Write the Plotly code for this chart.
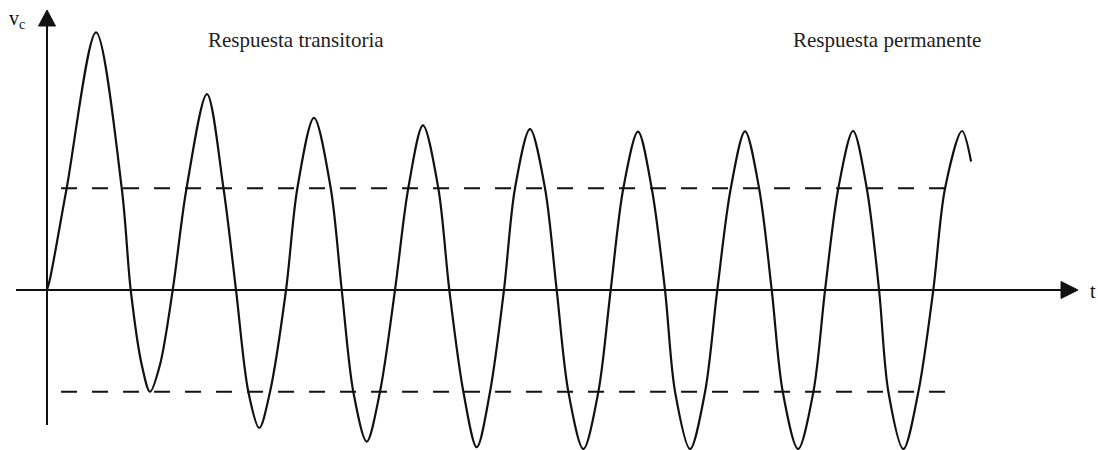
import plotly.graph_objects as go

# Capacitor voltage v_c (V) against time t (ms): transient start, then steady oscillation
t_ms = [0.00, 0.28, 1.82, 4.54, 6.92, 7.75,
        8.77, 9.54, 10.46, 11.64,
        12.92, 14.81, 16.34, 17.50, 18.64, 19.65, 20.65, 22.13,
        23.18, 24.72, 26.27, 27.29, 28.36, 29.60, 30.83, 32.22,
        33.45, 34.81, 36.23, 37.25, 38.55, 39.79, 41.02, 42.31,
        43.33, 44.72, 46.11, 47.19, 48.27, 49.66, 51.05, 52.19,
        53.36, 54.72, 55.99, 57.22, 58.15, 59.54, 60.93, 62.06,
        63.31, 64.63, 65.93, 67.10, 68.12, 69.54, 70.96, 72.04,
        73.27, 74.63, 75.90, 77.04, 77.90, 79.29, 80.68, 82.06,
        83.15, 84.72, 85.56]
vc = [0.0, 0.71, 6.4, 16.2, 6.4, 0.0,
      -4.70, -6.4, -4.70, 0.0,
      6.4, 12.32, 6.4, 0.0, -6.4, -8.68, -6.4, 0.0,
      6.4, 10.83, 6.4, 0.0, -6.4, -9.53, -6.4, 0.0,
      6.4, 10.35, 6.4, 0.0, -6.4, -9.89, -6.4, 0.0,
      6.4, 10.12, 6.4, 0.0, -6.4, -10.0, -6.4, 0.0,
      6.4, 9.96, 6.4, 0.0, -6.4, -10.0, -6.4, 0.0,
      6.4, 9.98, 6.4, 0.0, -6.4, -10.0, -6.4, 0.0,
      6.4, 10.0, 6.4, 0.0, -6.4, -10.0, -6.4, 0.0,
      6.4, 10.0, 8.08]

# Reference levels shown as dashed lines
band_level = 6.4
band_t = [1.3, 84.1]

# Axis extents (data units)
t_axis = [-2.87, 95.46]
v_axis = [-8.49, 17.61]

labels = ["Respuesta transitoria", "Respuesta permanente"]

INK = "#111111"
SERIF = "Liberation Serif, Times New Roman, serif"

fig = go.Figure()

for lvl in (band_level, -band_level):
    fig.add_trace(go.Scatter(
        x=band_t, y=[lvl, lvl], mode="lines",
        line=dict(color=INK, width=2, dash="16px,15px"),
        hoverinfo="skip", showlegend=False))

fig.add_trace(go.Scatter(
    x=t_ms, y=vc, mode="lines",
    line=dict(color=INK, width=2.2, shape="spline", smoothing=0.9),
    showlegend=False))

shapes = [
    # horizontal (t) axis
    dict(type="line", xref="x", yref="y", x0=t_axis[0], x1=t_axis[1] - 1.4,
         y0=0, y1=0, line=dict(color=INK, width=2)),
    # vertical (v_c) axis
    dict(type="line", xref="x", yref="y", x0=0, x1=0,
         y0=v_axis[0], y1=v_axis[1] - 1.0, line=dict(color=INK, width=2)),
    # arrowheads
    dict(type="path", xref="x", yref="y", xsizemode="pixel", ysizemode="pixel",
         xanchor=t_axis[1], yanchor=0,
         path="M 0,0 L -17,8.5 L -17,-8.5 Z",
         fillcolor=INK, line=dict(color=INK, width=1)),
    dict(type="path", xref="x", yref="y", xsizemode="pixel", ysizemode="pixel",
         xanchor=0, yanchor=v_axis[1],
         path="M 0,0 L -8.5,-16 L 8.5,-16 Z",
         fillcolor=INK, line=dict(color=INK, width=1)),
]

annotations = [
    dict(text="v<sub>c</sub>", xref="paper", yref="paper",
         x=7 / 1098, y=1 - 19 / 450, xanchor="left", yanchor="middle",
         showarrow=False, font=dict(family=SERIF, size=20, color=INK)),
    dict(text="t", xref="paper", yref="paper",
         x=1088 / 1098, y=1 - 291 / 450, xanchor="left", yanchor="middle",
         showarrow=False, font=dict(family=SERIF, size=20, color=INK)),
    dict(text=labels[0], xref="paper", yref="paper",
         x=206 / 1098, y=1 - 40 / 450, xanchor="left", yanchor="middle",
         showarrow=False, font=dict(family=SERIF, size=21, color="#222222")),
    dict(text=labels[1], xref="paper", yref="paper",
         x=791 / 1098, y=1 - 40 / 450, xanchor="left", yanchor="middle",
         showarrow=False, font=dict(family=SERIF, size=21, color="#222222")),
]

fig.update_layout(
    width=1098, height=450,
    margin=dict(l=0, r=0, t=0, b=0),
    paper_bgcolor="white", plot_bgcolor="white",
    xaxis=dict(range=[-4.352, 97.31], visible=False, fixedrange=True),
    yaxis=dict(range=[-10.063, 18.239], visible=False, fixedrange=True),
    shapes=shapes, annotations=annotations,
    showlegend=False,
)

fig.write_html("out.html")
